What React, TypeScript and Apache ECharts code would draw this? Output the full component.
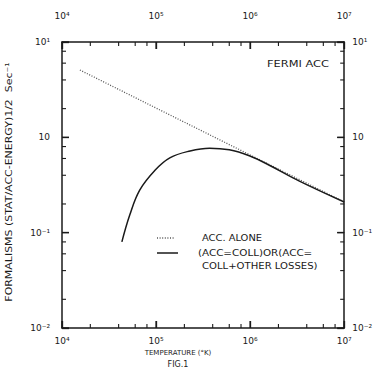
import React, { useEffect, useRef } from "react";
import * as echarts from "echarts";

// Axis ticks (decades) and labels
const X_DECADES = [4, 5, 6, 7];
const X_LABELS = ["10⁴", "10⁵", "10⁶", "10⁷"];
const Y_DECADES = [-2, -1, 0, 1];
const Y_LABELS = ["10⁻²", "10⁻¹", "10", "10¹"];
const MINOR_FACTORS = [2, 4, 6, 8];

// ACC. ALONE (dotted) : temperature (°K), formalism value
const accAloneT = [1.55e4, 1e7];
const accAloneV = [5.08, 0.21];

// (ACC=COLL) OR (ACC=COLL+OTHER LOSSES) (solid)
const accCollT = [4.33e4, 5.25e4, 6.7e4, 9.7e4, 1.4e5, 2.3e5, 3.7e5, 6.0e5, 9.8e5, 1.6e6, 3.3e6, 1e7];
const accCollV = [0.08, 0.153, 0.28, 0.45, 0.61, 0.72, 0.77, 0.74, 0.64, 0.51, 0.35, 0.21];

const X_MIN = 1e4, X_MAX = 1e7, Y_MIN = 0.01, Y_MAX = 10;

const INK = "#1a1a1a";
const FONT = "DejaVu Sans";

function lookup(v: number, decades: number[], labels: string[]) {
  const d = Math.round(Math.log10(v));
  const i = decades.indexOf(d);
  return i >= 0 ? labels[i] : "";
}

export default function App() {
  const ref = useRef<HTMLDivElement>(null);
  useEffect(() => {
    if (!ref.current) return;
    const chart = echarts.init(ref.current, null, { renderer: "svg" });

    const axisLine = { show: true, lineStyle: { color: INK, width: 1.5 } };
    const axisTick = { show: true, inside: true, length: 7, lineStyle: { color: INK, width: 1.3 } };
    const labelStyle = { color: INK, fontFamily: FONT, fontSize: 9 };

    const xAxisBase = {
      type: "log" as const,
      logBase: 10,
      min: X_MIN,
      max: X_MAX,
      axisLine,
      axisTick,
      splitLine: { show: false },
      minorTick: { show: false },
    };
    const yAxisBase = {
      type: "log" as const,
      logBase: 10,
      min: Y_MIN,
      max: Y_MAX,
      axisLine,
      axisTick,
      splitLine: { show: false },
      minorTick: { show: false },
    };

    const txt = (x: number, y: number, text: string, size: number, align = "left", scaleX = 1, rotation = 0) => ({
      type: "text",
      x,
      y,
      rotation,
      scaleX,
      style: {
        text,
        fill: INK,
        font: `${size}px "${FONT}"`,
        textAlign: align,
        textVerticalAlign: "middle",
      },
    });

    const baseGraphics = [
      txt(9, 182, "FORMALISMS (STAT/ACC-ENERGY)1/2  Sec⁻¹", 9, "center", 1.22, Math.PI / 2),
      txt(298, 63, "FERMI ACC", 9.5, "center", 1.2),
      { type: "line", shape: { x1: 157, y1: 238, x2: 174, y2: 238 }, style: { stroke: "#555", lineWidth: 1.3, lineDash: [1, 1.6] } },
      txt(202, 238, "ACC. ALONE", 9, "left", 1.1),
      { type: "line", shape: { x1: 157, y1: 253, x2: 178, y2: 253 }, style: { stroke: INK, lineWidth: 1.5 } },
      txt(198, 253, "(ACC=COLL)OR(ACC=", 9, "left", 1.15),
      txt(202, 266, "COLL+OTHER LOSSES)", 9, "left", 1.12),
      txt(178, 353, "TEMPERATURE (°K)", 7, "center", 1.0),
      txt(178, 364, "FIG.1", 8, "center", 1.0),
    ];

    chart.setOption({
      animation: false,
      backgroundColor: "#fff",
      grid: { left: 62, right: 30, top: 42, bottom: 60 },
      xAxis: [
        {
          ...xAxisBase,
          position: "bottom",
          axisLabel: { ...labelStyle, margin: 8, formatter: (v: number) => lookup(v, X_DECADES, X_LABELS) },
        },
        {
          ...xAxisBase,
          position: "top",
          axisLabel: { ...labelStyle, margin: 22, formatter: (v: number) => lookup(v, X_DECADES, X_LABELS) },
        },
      ],
      yAxis: [
        {
          ...yAxisBase,
          position: "left",
          axisLabel: { ...labelStyle, margin: 12, formatter: (v: number) => lookup(v, Y_DECADES, Y_LABELS) },
        },
        {
          ...yAxisBase,
          position: "right",
          axisLabel: { ...labelStyle, margin: 8, formatter: (v: number) => lookup(v, Y_DECADES, Y_LABELS) },
        },
      ],
      series: [
        {
          type: "line",
          name: "ACC. ALONE",
          data: accAloneT.map((t, i) => [t, accAloneV[i]]),
          showSymbol: false,
          lineStyle: { color: "#555", width: 1.3, type: [1, 1.6] },
        },
        {
          type: "line",
          name: "(ACC=COLL)OR(ACC=COLL+OTHER LOSSES)",
          data: accCollT.map((t, i) => [t, accCollV[i]]),
          showSymbol: false,
          smooth: 0.4,
          lineStyle: { color: INK, width: 1.5 },
        },
      ],
      graphic: baseGraphics,
    });

    // Tick marks (major at decades, minor at 2,4,6,8) placed through the chart's own log scales
    const px = (x: number, y: number) =>
      chart.convertToPixel({ xAxisIndex: 0, yAxisIndex: 0 }, [x, y]) as number[];
    const tickGraphics: any[] = [];
    const seg = (x1: number, y1: number, x2: number, y2: number, w: number) =>
      tickGraphics.push({ type: "line", silent: true, shape: { x1, y1, x2, y2 }, style: { stroke: INK, lineWidth: w } });

    for (let d = 4; d <= 7; d++) {
      const v = Math.pow(10, d);
      const t = px(v, Y_MAX), b = px(v, Y_MIN);
      seg(t[0], t[1], t[0], t[1] + 7, 1.3);
      seg(b[0], b[1], b[0], b[1] - 7, 1.3);
      if (d < 7) {
        MINOR_FACTORS.forEach((f) => {
          const mt = px(f * v, Y_MAX), mb = px(f * v, Y_MIN);
          seg(mt[0], mt[1], mt[0], mt[1] + 4, 1.1);
          seg(mb[0], mb[1], mb[0], mb[1] - 4, 1.1);
        });
      }
    }
    for (let d = -2; d <= 1; d++) {
      const v = Math.pow(10, d);
      const l = px(X_MIN, v), r = px(X_MAX, v);
      seg(l[0], l[1], l[0] + 7, l[1], 1.3);
      seg(r[0], r[1], r[0] - 7, r[1], 1.3);
      if (d < 1) {
        MINOR_FACTORS.forEach((f) => {
          const ml = px(X_MIN, f * v), mr = px(X_MAX, f * v);
          seg(ml[0], ml[1], ml[0] + 4, ml[1], 1.1);
          seg(mr[0], mr[1], mr[0] - 4, mr[1], 1.1);
        });
      }
    }

    chart.setOption({ graphic: [...baseGraphics, ...tickGraphics] });

    return () => chart.dispose();
  }, []);
  return <div ref={ref} style={{ width: 375, height: 388, position: "absolute", left: 0, top: 0 }} />;
}
